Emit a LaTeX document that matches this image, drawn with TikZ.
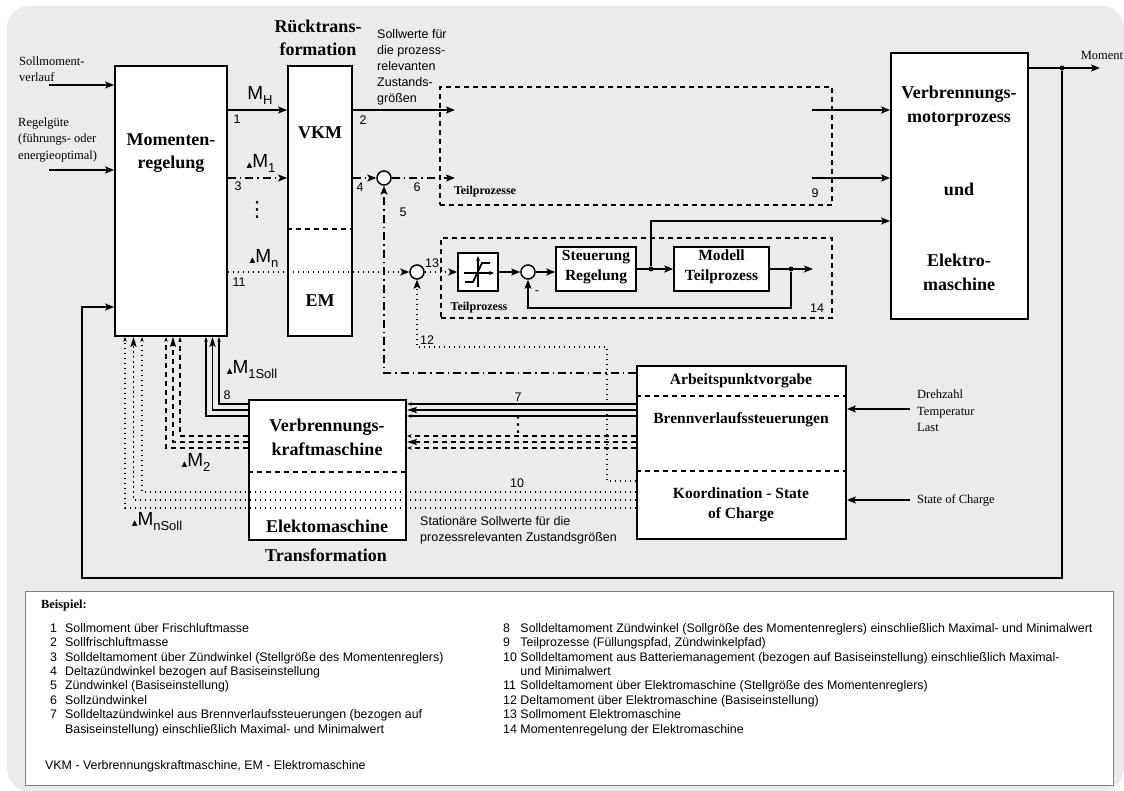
\documentclass[tikz,border=0pt]{standalone}
\usepackage{fontspec}
\setmainfont{Liberation Serif}
\setsansfont{Liberation Sans}
\newfontfamily\symf{DejaVu Sans}
\usepackage{tikz}
\usetikzlibrary{positioning,arrows.meta,calc}
\definecolor{panel}{HTML}{EBEBEB}
\definecolor{rim}{HTML}{808080}
\newcommand{\fsz}[2]{\fontsize{#1}{#2}\selectfont}
\newcommand{\dlt}{{\symf\fsz{7.5}{7.5}▲}}
\newcommand{\ix}[1]{\raisebox{-5pt}{\fsz{13}{13}#1}}
\tikzset{
  blk/.style={draw,line width=1.8pt,fill=white,inner sep=0pt},
  dbox/.style={draw,line width=1.5pt,dash pattern=on 5pt off 4pt},
  sum/.style={circle,draw,line width=1.5pt,fill=white,minimum size=14pt,inner sep=0pt},
  dot/.style={circle,fill,minimum size=5pt,inner sep=0pt},
  bt/.style={font=\fsz{18}{23.5}\bfseries,align=center,inner sep=0pt},
  bm/.style={font=\fsz{15.5}{20}\bfseries,align=center,inner sep=0pt},
  bs/.style={font=\fsz{12}{14}\bfseries,inner sep=0pt},
  txt/.style={font=\fsz{12.5}{16.5},align=left,inner sep=0pt},
  sf/.style={font=\sffamily\fsz{12.5}{16},align=left,inner sep=0pt},
  sg/.style={font=\sffamily\fsz{19}{19},inner sep=0pt},
  vd/.style={font=\symf\fsz{21}{21},inner sep=0pt},
  arr/.style={-{Stealth[length=9pt,width=7pt,inset=2pt]},line width=1.5pt},
  pkt/.style={line width=1.5pt,dash pattern=on 1.5pt off 3.5pt},
  str/.style={line width=1.5pt,dash pattern=on 5pt off 4pt},
  strp/.style={line width=1.5pt,dash pattern=on 8pt off 4pt on 1.5pt off 4pt},
  fb/.style={line width=1.3pt},
  tipb/.style={-{Stealth[length=10pt,width=6pt,inset=2pt]}},
  tips/.style={-{Stealth[length=5pt,width=3.5pt]}},
}
\begin{document}
\begin{tikzpicture}[x=1pt,y=-1pt]
\useasboundingbox (0,0) rectangle (1124,791);
\fill[panel,rounded corners=22pt] (7,6) rectangle (1124,791);
\node[draw=rim,fill=white,line width=1pt,minimum width=1088pt,minimum height=194pt] (leg) at (569,688) {};
\node[dbox,minimum width=392pt,minimum height=118pt] (tp) at (636,146) {};
\node[dbox,minimum width=391pt,minimum height=80pt] (tq) at (636.5,278) {};
\node[blk,minimum width=112pt,minimum height=270pt] (mr) at (171,201) {};
\node[blk,minimum width=64pt,minimum height=270pt] (rt) at (320,201) {};
\node[blk,minimum width=137pt,minimum height=266pt] (vm) at (959.5,186) {};
\node[blk,minimum width=157pt,minimum height=140pt] (vk) at (327.5,470) {};
\node[blk,minimum width=209pt,minimum height=173pt] (ko) at (741.5,452.5) {};
\node[blk,line width=1.5pt,minimum width=40pt,minimum height=38pt] (sat) at (478,272) {};
\node[blk,line width=1.5pt,minimum width=80pt,minimum height=44pt] (sr) at (596,269) {};
\node[blk,line width=1.5pt,minimum width=95pt,minimum height=44pt] (md) at (721.5,269) {};
\node[sum] (s1) at (384,178) {};
\node[sum] (s13) at (417,272) {};
\node[sum] (s2) at (528,272) {};
\coordinate (q1) at (0,229);
\coordinate (q2) at (0,472);
\coordinate (q3) at (0,396);
\coordinate (q4) at (0,471);
\draw[str] (rt.west |- q1) -- (rt.east |- q1);
\draw[str] (vk.west |- q2) -- (vk.east |- q2);
\draw[str] (ko.west |- q3) -- (ko.east |- q3);
\draw[str] (ko.west |- q4) -- (ko.east |- q4);
\draw[line width=1.5pt,-{Stealth[length=5pt,width=4pt]}] ($(sat)+(0,15)$) -- ($(sat)+(0,-16)$);
\draw[line width=1.5pt,-{Stealth[length=5pt,width=4pt]}] ($(sat)+(-14,1)$) -- ($(sat)+(16,1)$);
\draw[line width=1.8pt] ($(sat)+(-13,10)$) -- ++(8,0) -- ++(9,-19) -- ++(8,0);
\coordinate (in1) at (49,85);
\coordinate (in2) at (49,170);
\coordinate (rH) at (0,110);
\coordinate (r1) at (0,178);
\coordinate (rn) at (0,272);
\coordinate (rs) at (0,221);
\coordinate (r5) at (0,373);
\coordinate (r12) at (0,481);
\coordinate (c12) at (607,347);
\coordinate (rf) at (0,308);
\coordinate (rM) at (0,68);
\coordinate (lp) at (82,578);
\coordinate (rb) at (0,307);
\coordinate (e2) at (455,110);
\coordinate (e6) at (455,178);
\coordinate (b9a) at (812,110);
\coordinate (b9b) at (812,178);
\coordinate (e14) at (813,269);
\coordinate (eM) at (1100,68);
\coordinate (i3) at (910,409);
\coordinate (i4) at (910,500);
\draw[arr] (in1) -- (in1 -| mr.west);
\draw[arr] (in2) -- (in2 -| mr.west);
\draw[arr] (mr.east |- rH) -- (rt.west |- rH);
\draw[arr,strp] (mr.east |- r1) -- (rt.west |- r1);
\draw[arr,pkt] (mr.east |- rn) -- (s13.west);
\draw[arr] (rt.east |- rH) -- (e2);
\draw[arr,strp] (rt.east |- r1) -- (s1.west);
\draw[arr,strp] (s1.east) -- (e6);
\draw[arr] (b9a) -- (b9a -| vm.west);
\draw[arr] (b9b) -- (b9b -| vm.west);
\draw[arr,strp] (ko.west |- r5) -| (s1.south);
\draw[arr,pkt] (ko.west |- r12) -| (c12) -| (s13.south);
\draw[arr,pkt] (s13.east) -- (sat.west);
\draw[arr] (sat.east) -- (s2.west);
\draw[arr] (s2.east) -- (s2.east -| sr.west);
\draw[arr] (sr.east) -- (md.west);
\node[dot] (j1) at (651,269) {};
\draw[arr] (j1) |- (vm.west |- rs);
\draw[arr] (md.east) -- (e14);
\node[dot] (j2) at (791,269) {};
\draw[arr] (j2) |- (s2 |- rf) -- (s2.south);
\draw[arr] (vm.east |- rM) -- (eM);
\node[dot] (jM) at (1062,68) {};
\draw[arr] (jM) |- (lp) |- (mr.west |- rb);
\draw[arr] (i3) -- (i3 -| ko.east);
\draw[arr] (i4) -- (i4 -| ko.east);
\foreach \k/\t in {0/tips,1/tipb,2/tips}{
  \coordinate (a) at (0,{404+6*\k});
  \coordinate (b) at ({219-6.5*\k},0);
  \draw[fb,\t] (ko.west |- a) -- (vk.east |- a);
  \draw[fb,\t] (vk.west |- a) -| (b |- mr.south);
  \coordinate (a) at (0,{436+6*\k});
  \coordinate (b) at ({180-7*\k},0);
  \draw[fb,str,line width=1.3pt,\t] (ko.west |- a) -- (vk.east |- a);
  \draw[fb,str,line width=1.3pt,\t] (vk.west |- a) -| (b |- mr.south);
  \coordinate (a) at (0,{492+8*\k});
  \coordinate (b) at ({142-8.5*\k},0);
  \draw[fb,pkt,line width=1.3pt,\t] (ko.west |- a) -| (b |- mr.south);
}
\node[txt,anchor=west] (l1) at (19,69) {Sollmoment-\\verlauf};
\node[txt,anchor=west] (l2) at (18,140) {Regelgüte\\(führungs- oder\\energieoptimal)};
\node[bt] (tmr) at (171,153) {Momenten-\\regelung};
\node[bt] (trt) at (318,38) {Rücktrans-\\formation};
\node[bt] (tvkm) at (320,133) {VKM};
\node[bt] (tem) at (320,301) {EM};
\node[bt] (tvm) at (959,106) {Verbrennungs-\\motorprozess};
\node[bt] (tund) at (959,189) {und};
\node[bt] (tel) at (959,272.5) {Elektro-\\maschine};
\node[bt] (tvk) at (327,437.5) {Verbrennungs-\\kraftmaschine};
\node[bt] (tek) at (327,526) {Elektomaschine};
\node[bt] (ttr) at (326,555) {Transformation};
\node[bm] (tap) at (741,381) {Arbeitspunktvorgabe};
\node[bm] (tbv) at (741,420) {Brennverlaufssteuerungen};
\node[bm] (tko) at (741,504.5) {Koordination - State\\of Charge};
\node[bm] (tsr) at (596,267) {Steuerung\\Regelung};
\node[bm] (tmd) at (721.5,267) {Modell\\Teilprozess};
\node[bs] (ttp) at (485,192) {Teilprozesse};
\node[bs] (ttq) at (479,308) {Teilprozess};
\node[sf,anchor=west] (tsw) at (377,67) {Sollwerte für\\die prozess-\\relevanten\\Zustands-\\größen};
\node[sf,anchor=west] (tst) at (420,530) {Stationäre Sollwerte für die\\prozessrelevanten Zustandsgrößen};
\node[txt,anchor=west] (tdr) at (917,411) {Drehzahl\\Temperatur\\Last};
\node[txt,anchor=west] (tsoc) at (917,500) {State of Charge};
\node[txt] (tmo) at (1102,55) {Moment};
\node[sg] (mh) at (260,95) {M\ix{H}};
\node[sg] (m1) at (261,163) {\dlt M\ix{1}};
\node[sg] (mn) at (264,258) {\dlt M\ix{n}};
\node[sg] (m1s) at (252,370) {\dlt M\ix{1Soll}};
\node[sg] (m2) at (196,462) {\dlt M\ix{2}};
\node[sg] (mns) at (157,522) {\dlt M\ix{nSoll}};
\node[vd] (vd1) at (257,210) {⋮};
\node[vd] (vd2) at (518,425) {⋮};
\node[sf] (n1) at (237,119) {1};
\node[sf] (n2) at (363,120) {2};
\node[sf] (n3) at (238,186) {3};
\node[sf] (n4) at (360,187) {4};
\node[sf] (n5) at (403,212) {5};
\node[sf] (n6) at (417,187) {6};
\node[sf] (n7) at (518,397) {7};
\node[sf] (n8) at (227,395) {8};
\node[sf] (n9) at (815,193) {9};
\node[sf] (n10) at (517,483) {10};
\node[sf] (n11) at (239,282) {11};
\node[sf] (n12) at (427,340) {12};
\node[sf] (n13) at (432,263) {13};
\node[sf] (n14) at (817,308) {14};
\node[sf] (neg) at (537,293) {-};
\node[font=\fsz{12.4}{14.4}\bfseries,anchor=west,inner sep=0pt] (bsp) at (41,606) {Beispiel:};
\node[font=\sffamily\fsz{12.4}{14.4},anchor=north west,inner sep=0pt] (lgl) at (50,622) {\begin{tabular}{@{}l@{\hspace{8pt}}l@{}}
1 & Sollmoment über Frischluftmasse\\
2 & Sollfrischluftmasse\\
3 & Solldeltamoment über Zündwinkel (Stellgröße des Momentenreglers)\\
4 & Deltazündwinkel bezogen auf Basiseinstellung\\
5 & Zündwinkel (Basiseinstellung)\\
6 & Sollzündwinkel\\
7 & Solldeltazündwinkel aus Brennverlaufssteuerungen (bezogen auf\\
  & Basiseinstellung) einschließlich Maximal- und Minimalwert
\end{tabular}};
\node[font=\sffamily\fsz{12.4}{14.4},anchor=north west,inner sep=0pt] (lgr) at (503,622) {\begin{tabular}{@{}l@{\hspace{3.5pt}}l@{}}
8 & Solldeltamoment Zündwinkel (Sollgröße des Momentenreglers) einschließlich Maximal- und Minimalwert\\
9 & Teilprozesse (Füllungspfad, Zündwinkelpfad)\\
10 & Solldeltamoment aus Batteriemanagement (bezogen auf Basiseinstellung) einschließlich Maximal-\\
   & und Minimalwert\\
11 & Solldeltamoment über Elektromaschine (Stellgröße des Momentenreglers)\\
12 & Deltamoment über Elektromaschine (Basiseinstellung)\\
13 & Sollmoment Elektromaschine\\
14 & Momentenregelung der Elektromaschine
\end{tabular}};
\node[font=\sffamily\fsz{12.4}{14.4},anchor=west,inner sep=0pt] (vkm) at (45,766) {VKM - Verbrennungskraftmaschine, EM - Elektromaschine};
\end{tikzpicture}
\end{document}
